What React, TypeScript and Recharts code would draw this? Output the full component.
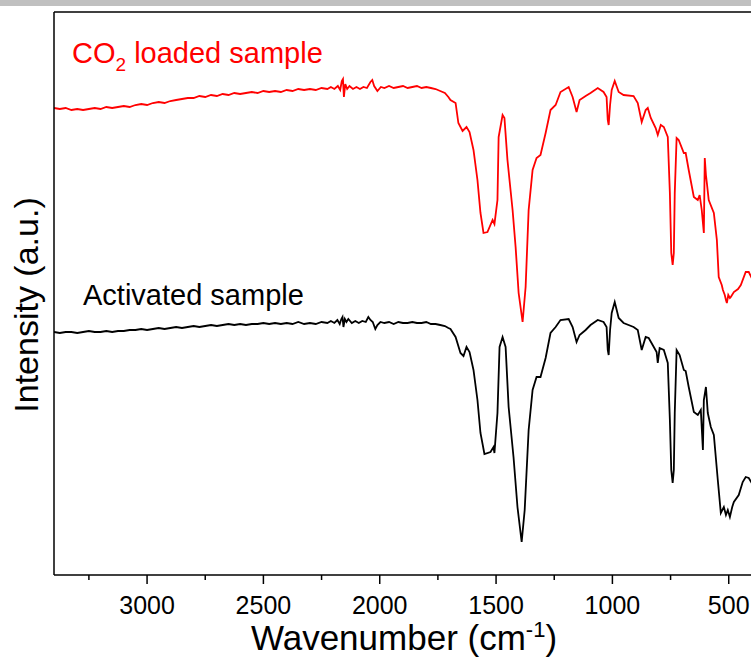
import { Line, LineChart, ReferenceLine, XAxis, YAxis } from "recharts";

// wavenumber (cm-1) / intensity (a.u.)
const loadedWavenumber = [
  3400, 3375, 3350, 3325, 3300, 3275, 3250, 3225, 3200, 3175, 3150, 3125, 3100, 3075, 3050,
  3025, 3000, 2975, 2950, 2925, 2900, 2875, 2850, 2825, 2800, 2775, 2750, 2725, 2700, 2675,
  2650, 2625, 2600, 2575, 2550, 2525, 2500, 2475, 2450, 2425, 2400, 2375, 2350, 2325, 2300,
  2275, 2250, 2225, 2210, 2195, 2180, 2170, 2163, 2158, 2154, 2148, 2140, 2130, 2115, 2100,
  2085, 2070, 2055, 2040, 2032, 2024, 2010, 1995, 1980, 1960, 1940, 1920, 1900, 1880, 1860,
  1840, 1820, 1800, 1780, 1760, 1740, 1720, 1705, 1696,
  1674, 1662, 1644, 1627, 1614, 1597,
  1580, 1567, 1554, 1537, 1515, 1507, 1494, 1489, 1472, 1464, 1451, 1429, 1416, 1403, 1386,
  1373, 1360, 1343, 1326, 1309, 1287, 1266, 1244, 1223, 1188, 1171, 1154, 1141, 1115, 1094,
  1063, 1038, 1025, 1020, 1016, 1010, 1003, 990, 973, 952, 909, 891, 874, 857, 848,
  835, 814, 805, 792, 779, 762, 753, 747, 741, 736, 732, 724, 715, 693, 685,
  672, 650, 633, 625, 616, 607, 603, 598, 594, 586, 564, 551, 543, 530, 525,
  517, 512, 508, 502, 495, 491, 478, 460, 448, 427, 414, 401,
];
const loadedIntensity = [
  467, 466, 467, 465, 466, 465, 466, 467, 466, 468, 467, 468, 469, 468, 470,
  471, 470, 472, 473, 472, 474, 475, 476, 477, 477, 479, 478, 480, 479, 481,
  480, 482, 481, 482, 483, 482, 484, 483, 484, 483, 485, 484, 486, 485, 486,
  485, 487, 486, 488, 486, 489, 485, 494, 496, 478, 491, 486, 489, 486, 488,
  486, 488, 487, 493, 495, 489, 484, 488, 487, 489, 487, 488, 489, 487, 488,
  489, 487, 488, 487, 486, 484, 482, 478, 475,
  472, 452, 444, 448, 443, 425,
  395, 362, 342, 343, 355, 351, 375, 438, 460, 457, 415, 365, 328, 282, 253,
  288, 365, 405, 417, 420, 442, 465, 470, 483, 488, 478, 463, 475, 479, 482,
  487, 483, 478, 455, 450, 470, 485, 494, 483, 480, 479, 472, 453, 465, 467,
  457, 447, 440, 450, 448, 438, 382, 322, 310, 322, 382, 437, 435, 422, 422,
  405, 378, 375, 380, 365, 342, 417, 400, 392, 375, 362, 335, 298, 290, 285,
  280, 275, 272, 280, 277, 278, 283, 286, 290, 303, 303, 297,
];

const activatedWavenumber = [
  3400, 3375, 3350, 3325, 3300, 3275, 3250, 3225, 3200, 3175, 3150, 3125, 3100, 3075, 3050,
  3025, 3000, 2975, 2950, 2925, 2900, 2875, 2850, 2825, 2800, 2775, 2750, 2725, 2700, 2675,
  2650, 2625, 2600, 2575, 2550, 2525, 2500, 2475, 2450, 2425, 2400, 2375, 2350, 2325, 2300,
  2275, 2250, 2225, 2210, 2195, 2182, 2172, 2165, 2160, 2156, 2150, 2143, 2135, 2120, 2105,
  2090, 2075, 2060, 2049, 2040, 2030, 2019, 2010, 1997, 1980, 1960, 1940, 1920, 1900, 1880,
  1860, 1840, 1820, 1800, 1780, 1760, 1740, 1720, 1705, 1696,
  1674, 1653, 1640, 1627, 1614, 1597, 1580, 1567,
  1550, 1524, 1511, 1507, 1494, 1485, 1472, 1459, 1446, 1425, 1408, 1390, 1377, 1360, 1343,
  1326, 1309, 1287, 1266, 1244, 1223, 1188, 1171, 1154, 1141, 1115, 1094, 1063, 1038, 1025,
  1020, 1016, 1010, 1003, 990, 973, 952, 909, 891, 874, 857, 844, 827, 810, 805,
  797, 779, 762, 753, 747, 741, 736, 732, 724, 711, 693, 685, 672, 650, 633,
  620, 611, 607, 598, 590, 577, 564, 547, 534, 521, 512, 504, 495, 485, 478,
  457, 440, 427, 414, 401,
];
const activatedIntensity = [
  243, 242, 243, 243, 242, 243, 244, 243, 243, 244, 243, 244, 244, 245, 245,
  246, 245, 246, 247, 246, 247, 248, 247, 248, 249, 248, 249, 250, 249, 250,
  251, 250, 251, 250, 251, 251, 252, 251, 252, 251, 252, 251, 253, 251, 252,
  251, 253, 252, 254, 252, 255, 251, 256, 258, 248, 256, 253, 256, 252, 254,
  252, 254, 253, 258, 255, 253, 246, 250, 253, 252, 253, 251, 253, 252, 252,
  253, 252, 252, 253, 251, 251, 250, 249, 247, 246,
  238, 222, 219, 228, 223, 205, 175, 142,
  121, 123, 128, 122, 162, 228, 238, 228, 168, 118, 68, 33, 65, 145, 185,
  198, 198, 217, 242, 248, 255, 256, 248, 233, 240, 245, 250, 255, 253, 248,
  225, 220, 245, 262, 273, 257, 252, 248, 245, 225, 238, 237, 230, 223, 212,
  227, 225, 212, 155, 105, 92, 105, 162, 225, 220, 205, 204, 188, 163, 160,
  165, 125, 175, 188, 162, 148, 140, 95, 62, 68, 60, 65, 58, 68, 73,
  80, 93, 98, 97, 92,
];

const xTicks = [3250, 3000, 2750, 2500, 2250, 2000, 1750, 1500, 1250, 1000, 750, 500];

const loaded = loadedWavenumber.map((wn, i) => ({ wn, value: loadedIntensity[i] }));
const activated = activatedWavenumber.map((wn, i) => ({ wn, value: activatedIntensity[i] }));

const FONT = "'Liberation Sans', Arial, sans-serif";

function WaveTick({ x, y, payload }: any) {
  const major = payload.value % 500 === 0;
  return (
    <g>
      <line x1={x} x2={x} y1={y} y2={y + (major ? 9 : 5)} stroke="#000" strokeWidth={1.5} />
      {major && (
        <text x={x} y={y + 39} textAnchor="middle" fontSize={25} fontFamily={FONT} fill="#000">
          {payload.value}
        </text>
      )}
    </g>
  );
}

export default function App() {
  return (
    <div
      style={{
        position: "absolute",
        left: 0,
        top: 0,
        width: 751,
        height: 659,
        overflow: "hidden",
        background: "#fff",
      }}
    >
      <div style={{ position: "absolute", left: 0, top: 0, width: 751, height: 6, background: "#c0c0c0" }} />
      <LineChart width={752} height={659} margin={{ top: 12, right: 0, bottom: 0, left: 0 }}>
        <XAxis
          dataKey="wn"
          type="number"
          domain={[400, 3400]}
          reversed
          allowDataOverflow
          ticks={xTicks}
          interval={0}
          tickSize={0}
          tickMargin={0}
          tickLine={false}
          tick={<WaveTick />}
          height={84}
          axisLine={{ stroke: "#000", strokeWidth: 1.5 }}
        />
        <YAxis
          type="number"
          domain={[0, 563]}
          allowDataOverflow
          width={54}
          tick={false}
          tickLine={false}
          axisLine={{ stroke: "#000", strokeWidth: 1.5 }}
        />
        <ReferenceLine y={563} stroke="#000" strokeWidth={1.5} />
        <Line
          data={loaded}
          dataKey="value"
          type="linear"
          stroke="#ff0000"
          strokeWidth={1.8}
          dot={false}
          isAnimationActive={false}
        />
        <Line
          data={activated}
          dataKey="value"
          type="linear"
          stroke="#000"
          strokeWidth={1.8}
          dot={false}
          isAnimationActive={false}
        />
        <text x={72} y={63} fontSize={29} fontFamily={FONT} fill="#ff0000">
          CO
          <tspan fontSize={19} dy={8}>2</tspan>
          <tspan dy={-8}> loaded sample</tspan>
        </text>
        <text x={83} y={305} fontSize={29} fontFamily={FONT} fill="#000">
          Activated sample
        </text>
        <text
          x={38}
          y={305}
          transform="rotate(-90, 38, 305)"
          textAnchor="middle"
          fontSize={34}
          fontFamily={FONT}
          fill="#000"
        >
          Intensity (a.u.)
        </text>
        <text x={404} y={650} textAnchor="middle" fontSize={35} fontFamily={FONT} fill="#000">
          Wavenumber (cm
          <tspan fontSize={22} dy={-13}>-1</tspan>
          <tspan dy={13}>)</tspan>
        </text>
      </LineChart>
    </div>
  );
}
